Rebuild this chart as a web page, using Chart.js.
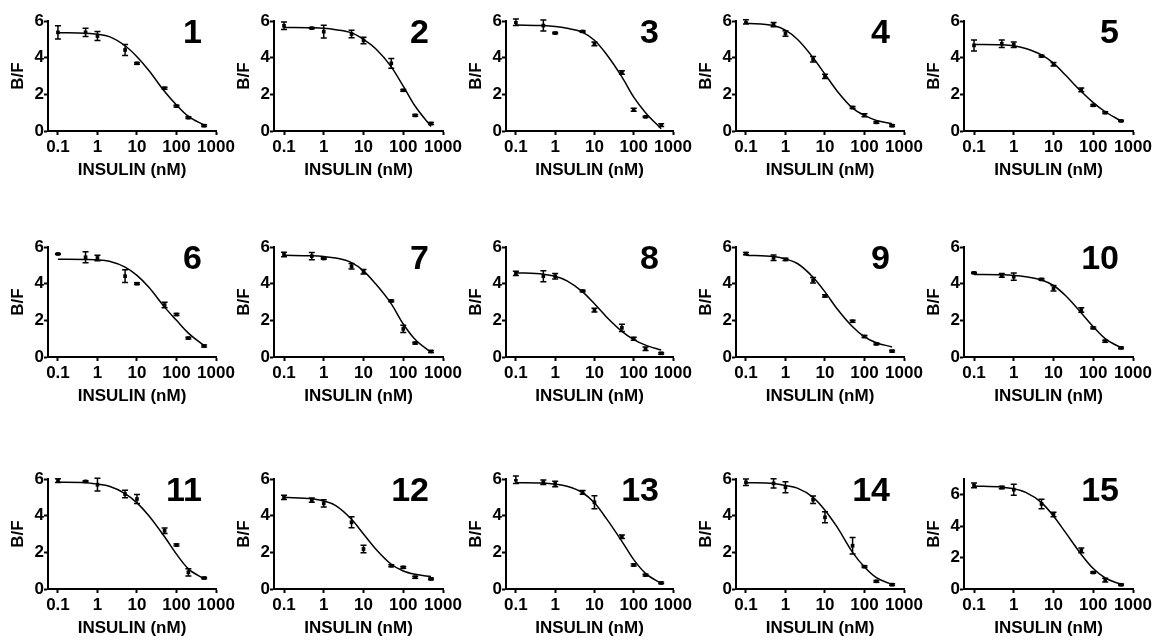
<!DOCTYPE html>
<html>
<head>
<meta charset="utf-8">
<title>Insulin competition binding</title>
<script src="https://cdn.jsdelivr.net/npm/chart.js@4.4.1/dist/chart.umd.min.js"></script>
<style>
  body { margin: 0; background: #fff; }
  #wrap { position: relative; width: 1155px; height: 641px; overflow: hidden; }
  #wrap canvas { position: absolute; }
</style>
</head>
<body>
<div id="wrap"></div>
<script>
// Insulin doses (nM) of the measured points and of the fitted curve
const doses = [0.1, 0.5, 1, 5, 10, 50, 100, 200, 500];
const fitDoses = [0.1, 0.5, 1, 2, 5, 10, 20, 50, 100, 200, 500];
const xTicks = [0.1, 1, 10, 100, 1000];
const yTicks = [0, 2, 4, 6];
const panelLabels = ['1', '2', '3', '4', '5', '6', '7', '8', '9', '10', '11', '12', '13', '14', '15'];
const yMax = [6, 6, 6, 6, 6, 6, 6, 6, 6, 6, 6, 6, 6, 6, 7];

// B/F means, error bars and fitted curve for each panel
const bf1 = [5.38, 5.38, 5.18, 4.42, 3.69, 2.33, 1.36, 0.73, 0.29];
const err1 = [0.36, 0.23, 0.25, 0.3, 0.05, 0.05, 0.05, 0.05, 0.05];
const fit1 = [5.36, 5.33, 5.28, 5.15, 4.65, 4.05, 3.3, 2.15, 1.42, 0.8, 0.33];

const bf2 = [5.74, 5.61, 5.42, 5.29, 4.94, 3.69, 2.22, 0.85, 0.41];
const err2 = [0.2, 0.03, 0.35, 0.2, 0.18, 0.27, 0.05, 0.05, 0.05];
const fit2 = [5.65, 5.63, 5.6, 5.52, 5.35, 5.0, 4.5, 3.5, 2.45, 1.35, 0.25];

const bf3 = [5.93, 5.75, 5.34, 5.43, 4.75, 3.19, 1.16, 0.77, 0.32];
const err3 = [0.18, 0.3, 0.04, 0.04, 0.1, 0.1, 0.08, 0.04, 0.08];
const fit3 = [5.78, 5.75, 5.7, 5.6, 5.38, 4.95, 4.2, 2.95, 1.85, 1.0, 0.12];

const bf4 = [5.95, 5.8, 5.32, 3.92, 2.98, 1.28, 0.86, 0.47, 0.29];
const err4 = [0.12, 0.12, 0.15, 0.15, 0.12, 0.05, 0.08, 0.05, 0.05];
const fit4 = [5.88, 5.75, 5.5, 5.0, 4.0, 3.1, 2.2, 1.25, 0.85, 0.58, 0.4];

const bf5 = [4.67, 4.76, 4.7, 4.08, 3.64, 2.24, 1.4, 1.0, 0.55];
const err5 = [0.3, 0.2, 0.15, 0.05, 0.1, 0.1, 0.05, 0.05, 0.03];
const fit5 = [4.72, 4.7, 4.65, 4.5, 4.15, 3.7, 3.05, 2.15, 1.55, 1.05, 0.55];

const bf6 = [5.62, 5.44, 5.4, 4.41, 4.0, 2.83, 2.32, 1.03, 0.6];
const err6 = [0.03, 0.3, 0.15, 0.35, 0.05, 0.15, 0.05, 0.05, 0.05];
const fit6 = [5.33, 5.32, 5.3, 5.22, 4.9, 4.45, 3.8, 2.72, 2.0, 1.3, 0.62];

const bf7 = [5.59, 5.5, 5.37, 4.95, 4.65, 3.06, 1.53, 0.76, 0.3];
const err7 = [0.12, 0.2, 0.04, 0.15, 0.12, 0.05, 0.2, 0.05, 0.05];
const fit7 = [5.55, 5.52, 5.48, 5.4, 5.15, 4.7, 4.0, 2.9, 1.8, 0.95, 0.25];

const bf8 = [4.56, 4.41, 4.41, 3.6, 2.56, 1.59, 1.0, 0.45, 0.2];
const err8 = [0.12, 0.3, 0.15, 0.04, 0.1, 0.2, 0.08, 0.1, 0.05];
const fit8 = [4.6, 4.52, 4.4, 4.15, 3.55, 2.9, 2.2, 1.4, 0.95, 0.65, 0.38];

const bf9 = [5.64, 5.41, 5.32, 4.18, 3.33, 1.95, 1.12, 0.72, 0.32];
const err9 = [0.06, 0.15, 0.06, 0.15, 0.06, 0.05, 0.05, 0.05, 0.05];
const fit9 = [5.55, 5.48, 5.35, 5.1, 4.35, 3.55, 2.65, 1.65, 1.1, 0.78, 0.55];

const bf10 = [4.59, 4.45, 4.38, 4.23, 3.75, 2.56, 1.59, 0.86, 0.5];
const err10 = [0.03, 0.1, 0.2, 0.05, 0.15, 0.12, 0.05, 0.05, 0.05];
const fit10 = [4.5, 4.48, 4.45, 4.38, 4.2, 3.9, 3.35, 2.4, 1.65, 1.0, 0.5];

const bf11 = [5.91, 5.87, 5.69, 5.18, 4.91, 3.18, 2.4, 0.91, 0.6];
const err11 = [0.1, 0.04, 0.35, 0.2, 0.25, 0.15, 0.05, 0.2, 0.04];
const fit11 = [5.82, 5.8, 5.72, 5.6, 5.2, 4.7, 4.0, 2.85, 1.9, 1.1, 0.55];

const bf12 = [5.0, 4.85, 4.67, 3.64, 2.18, 1.27, 1.18, 0.64, 0.55];
const err12 = [0.12, 0.12, 0.2, 0.3, 0.2, 0.05, 0.05, 0.05, 0.05];
const fit12 = [5.0, 4.92, 4.8, 4.55, 3.8, 3.0, 2.2, 1.35, 0.98, 0.8, 0.68];

const bf13 = [5.96, 5.82, 5.73, 5.27, 4.73, 2.85, 1.31, 0.76, 0.33];
const err13 = [0.2, 0.12, 0.15, 0.1, 0.35, 0.1, 0.05, 0.05, 0.05];
const fit13 = [5.8, 5.78, 5.72, 5.6, 5.25, 4.7, 3.85, 2.6, 1.6, 0.85, 0.3];

const bf14 = [5.82, 5.76, 5.55, 4.87, 3.91, 2.36, 1.22, 0.42, 0.24];
const err14 = [0.18, 0.25, 0.3, 0.2, 0.3, 0.45, 0.05, 0.05, 0.05];
const fit14 = [5.8, 5.75, 5.65, 5.5, 5.0, 4.3, 3.4, 2.0, 1.2, 0.62, 0.25];

const bf15 = [6.59, 6.46, 6.32, 5.41, 4.74, 2.46, 1.05, 0.57, 0.27];
const err15 = [0.15, 0.08, 0.35, 0.3, 0.15, 0.15, 0.05, 0.12, 0.05];
const fit15 = [6.55, 6.48, 6.38, 6.15, 5.5, 4.65, 3.6, 2.2, 1.3, 0.7, 0.3];

const means = [bf1, bf2, bf3, bf4, bf5, bf6, bf7, bf8, bf9, bf10, bf11, bf12, bf13, bf14, bf15];
const errs = [err1, err2, err3, err4, err5, err6, err7, err8, err9, err10, err11, err12, err13, err14, err15];
const fits = [fit1, fit2, fit3, fit4, fit5, fit6, fit7, fit8, fit9, fit10, fit11, fit12, fit13, fit14, fit15];

// Layout of the 5 x 3 grid (y-axis position / plot size in page pixels)
const colAxisX = [48, 274, 506, 736, 964];
const colWidth = [168, 169, 167, 168, 169];
const rowTopY = [21, 247, 479];
const PLOT_H = 110;
const AXIS_W = 48;
const PAD_TOP = 21;
const PAD_RIGHT = 24;
const XAXIS_H = 64;
const X_MIN = 0.056;

const FONT = '"Liberation Sans", Arial, Helvetica, sans-serif';
Chart.defaults.font.family = FONT;
Chart.defaults.color = '#000';

const errorBarPlugin = {
    id: 'errorBars',
    afterDatasetsDraw(chart) {
        const ctx = chart.ctx;
        const yScale = chart.scales.y;
        chart.data.datasets.forEach((ds, di) => {
            if (!ds.errors) return;
            const meta = chart.getDatasetMeta(di);
            ctx.save();
            ctx.strokeStyle = '#000';
            ctx.lineWidth = 1.5;
            meta.data.forEach((pt, i) => {
                const v = ds.data[i].y;
                const e = ds.errors[i];
                const top = yScale.getPixelForValue(v + e);
                const bot = yScale.getPixelForValue(v - e);
                ctx.beginPath();
                ctx.moveTo(pt.x, top);
                ctx.lineTo(pt.x, bot);
                ctx.moveTo(pt.x - 3, top);
                ctx.lineTo(pt.x + 3, top);
                ctx.moveTo(pt.x - 3, bot);
                ctx.lineTo(pt.x + 3, bot);
                ctx.stroke();
            });
            ctx.restore();
        });
    }
};

const panelLabelPlugin = {
    id: 'panelLabel',
    afterDraw(chart, args, opts) {
        const { ctx, chartArea } = chart;
        ctx.save();
        ctx.font = 'bold 34px ' + FONT;
        ctx.fillStyle = '#000';
        ctx.textAlign = 'right';
        ctx.textBaseline = 'alphabetic';
        ctx.fillText(opts.text, chartArea.right - 14, chartArea.top + 22);
        ctx.restore();
    }
};

function makePanel(i) {
    const col = i % 5;
    const row = Math.floor(i / 5);
    const canvas = document.createElement('canvas');
    canvas.width = AXIS_W + colWidth[col] + PAD_RIGHT;
    canvas.height = PAD_TOP + PLOT_H + XAXIS_H;
    canvas.style.left = (colAxisX[col] - AXIS_W) + 'px';
    canvas.style.top = (rowTopY[row] - PAD_TOP) + 'px';
    document.getElementById('wrap').appendChild(canvas);

    const tickFont = { size: 17, weight: 'bold' };

    new Chart(canvas.getContext('2d'), {
        type: 'line',
        data: {
            datasets: [{
                data: fitDoses.map((d, j) => ({ x: d, y: fits[i][j] })),
                borderColor: '#000',
                borderWidth: 1.5,
                pointRadius: 0,
                cubicInterpolationMode: 'monotone',
                fill: false
            }, {
                data: doses.map((d, j) => ({ x: d, y: means[i][j] })),
                errors: errs[i],
                showLine: false,
                pointStyle: 'rect',
                pointRadius: 2.6,
                backgroundColor: '#000',
                borderWidth: 0
            }]
        },
        options: {
            responsive: false,
            animation: false,
            devicePixelRatio: 1,
            layout: { padding: { top: PAD_TOP, right: PAD_RIGHT, bottom: 0, left: 0 } },
            plugins: {
                legend: { display: false },
                tooltip: { enabled: false },
                panelLabel: { text: panelLabels[i] }
            },
            scales: {
                x: {
                    type: 'logarithmic',
                    min: X_MIN,
                    max: 1000,
                    afterBuildTicks: s => { s.ticks = xTicks.map(v => ({ value: v })); },
                    afterFit: s => { s.height = XAXIS_H; },
                    ticks: {
                        autoSkip: false, maxRotation: 0, minRotation: 0,
                        padding: 2, color: '#000', font: tickFont,
                        callback: v => String(v)
                    },
                    grid: { display: true, drawOnChartArea: false, drawTicks: true, tickLength: 4, tickWidth: 2, tickColor: '#000' },
                    border: { display: true, color: '#000', width: 2 },
                    title: {
                        display: true, text: 'INSULIN (nM)', color: '#000',
                        font: { size: 17, weight: 'bold' },
                        padding: { top: 0, bottom: 14 }
                    }
                },
                y: {
                    type: 'linear',
                    min: 0,
                    max: yMax[i],
                    afterBuildTicks: s => { s.ticks = yTicks.map(v => ({ value: v })); },
                    afterFit: s => { s.width = AXIS_W; },
                    ticks: { padding: 0, color: '#000', font: tickFont },
                    grid: { display: true, drawOnChartArea: false, drawTicks: true, tickLength: 4, tickWidth: 2, tickColor: '#000' },
                    border: { display: true, color: '#000', width: 2 },
                    title: {
                        display: true, text: 'B/F', color: '#000',
                        font: { size: 17, weight: 'bold' },
                        padding: { top: 8, bottom: 0 }
                    }
                }
            }
        },
        plugins: [errorBarPlugin, panelLabelPlugin]
    });
}

for (let i = 0; i < 15; i++) makePanel(i);
</script>
</body>
</html>
